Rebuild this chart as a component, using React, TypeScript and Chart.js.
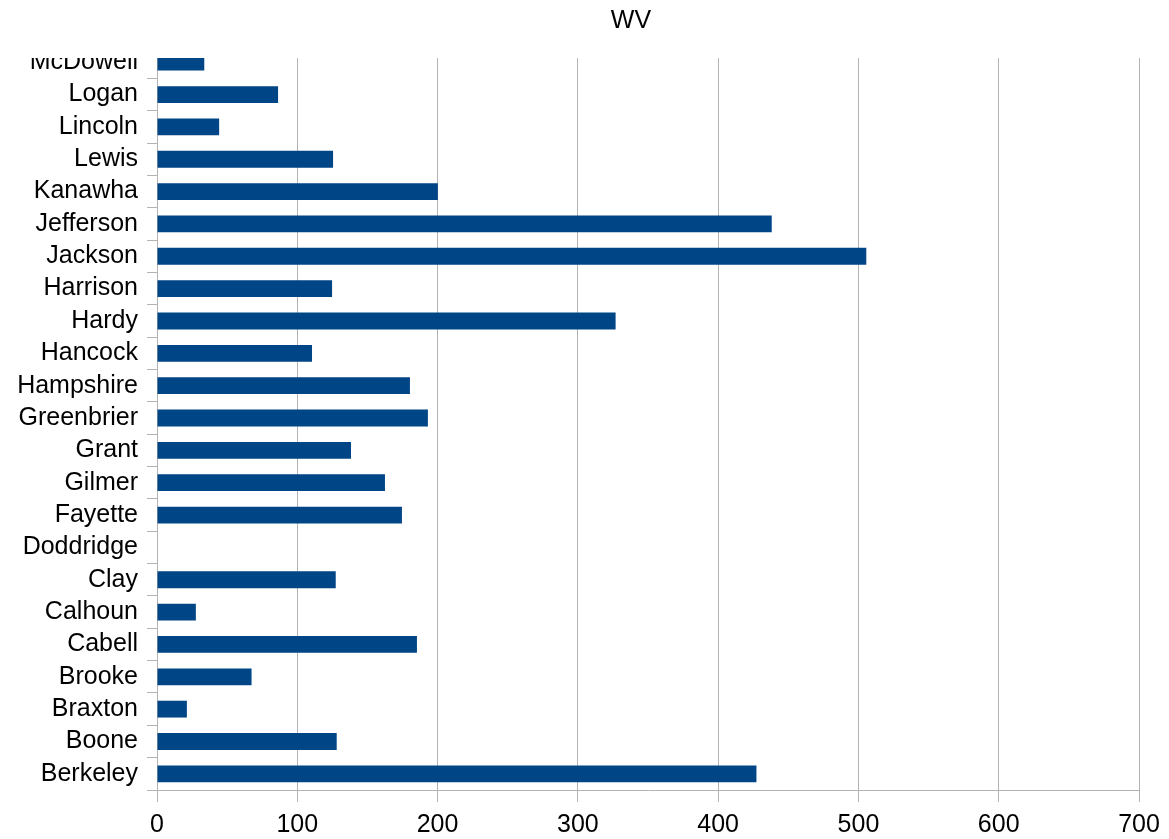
import React, { useEffect, useRef } from 'react';
import { Chart, registerables } from 'chart.js';

Chart.register(...registerables);

const chartTitle = 'WV';

const counties = [
  'Berkeley', 'Boone', 'Braxton', 'Brooke', 'Cabell', 'Calhoun', 'Clay', 'Doddridge',
  'Fayette', 'Gilmer', 'Grant', 'Greenbrier', 'Hampshire', 'Hancock', 'Hardy', 'Harrison',
  'Jackson', 'Jefferson', 'Kanawha', 'Lewis', 'Lincoln', 'Logan', 'McDowell',
];

const counts = [
  427.3, 128.1, 21.3, 67.4, 185.3, 27.7, 127.4, 0,
  174.6, 162.5, 138.3, 193.1, 180.3, 110.5, 326.9, 124.8,
  505.6, 438.2, 200.2, 125.5, 44.3, 86.3, 33.7,
];

const xMin = 0;
const xMax = 700;
const xStep = 100;

export default function App() {
  const ref = useRef<HTMLCanvasElement>(null);

  useEffect(() => {
    const canvas = ref.current;
    if (!canvas) return;
    const gridColor = '#b3b3b3';
    const family = '"Liberation Sans", Arial, sans-serif';
    const font = { family, size: 25 };

    const coverAndTitle = {
      id: 'coverAndTitle',
      afterDraw(chart: any) {
        const { ctx, chartArea } = chart;
        ctx.save();
        ctx.fillStyle = '#ffffff';
        ctx.fillRect(0, 0, chartArea.left - 1, chartArea.top);
        ctx.fillStyle = '#000000';
        ctx.font = `25px ${family}`;
        ctx.textAlign = 'center';
        ctx.textBaseline = 'alphabetic';
        ctx.fillText(chartTitle, 631, 28);
        ctx.restore();
      },
    };

    const chart = new Chart(canvas, {
      type: 'bar',
      data: {
        datasets: [
          {
            data: counts.map((v, i) => ({ x: v, y: i })),
            backgroundColor: '#004586',
            borderWidth: 0,
            categoryPercentage: 1,
            barPercentage: 0.52,
            clip: 0,
          } as any,
        ],
      },
      options: {
        indexAxis: 'y',
        responsive: false,
        animation: false,
        layout: { padding: { top: 58, right: 30, left: 0, bottom: 0 } },
        plugins: {
          legend: { display: false },
          title: { display: false },
          tooltip: { enabled: false },
        },
        scales: {
          x: {
            type: 'linear',
            position: 'bottom',
            min: xMin,
            max: xMax,
            offset: false,
            ticks: { stepSize: xStep, color: '#000000', font, padding: 8 },
            grid: { color: gridColor, lineWidth: 1, tickLength: 12, drawTicks: true, offset: false },
            border: { color: gridColor, width: 1 },
            afterFit: (s: any) => {
              s.height = 49;
            },
          },
          y: {
            type: 'linear',
            position: 'left',
            min: -0.5,
            max: counties.length - 0.87,
            bounds: 'data',
            offset: false,
            afterBuildTicks: (s: any) => {
              s.ticks = counties.map((_, i) => ({ value: i - 0.5 }));
            },
            ticks: {
              autoSkip: false,
              labelOffset: -16.2,
              color: '#000000',
              font,
              padding: 9,
              callback: (v: any) => counties[Math.round(Number(v) + 0.5)],
            },
            grid: { drawOnChartArea: false, color: gridColor, tickLength: 10, drawTicks: true, offset: false },
            border: { color: gridColor, width: 1 },
            afterFit: (s: any) => {
              s.width = 157;
            },
          },
        } as any,
      },
      plugins: [coverAndTitle],
    });

    return () => chart.destroy();
  }, []);

  return (
    <div style={{ position: 'fixed', left: 0, top: 0, width: 1169, height: 839, background: '#ffffff' }}>
      <canvas ref={ref} width={1169} height={839} style={{ display: 'block' }} />
    </div>
  );
}
